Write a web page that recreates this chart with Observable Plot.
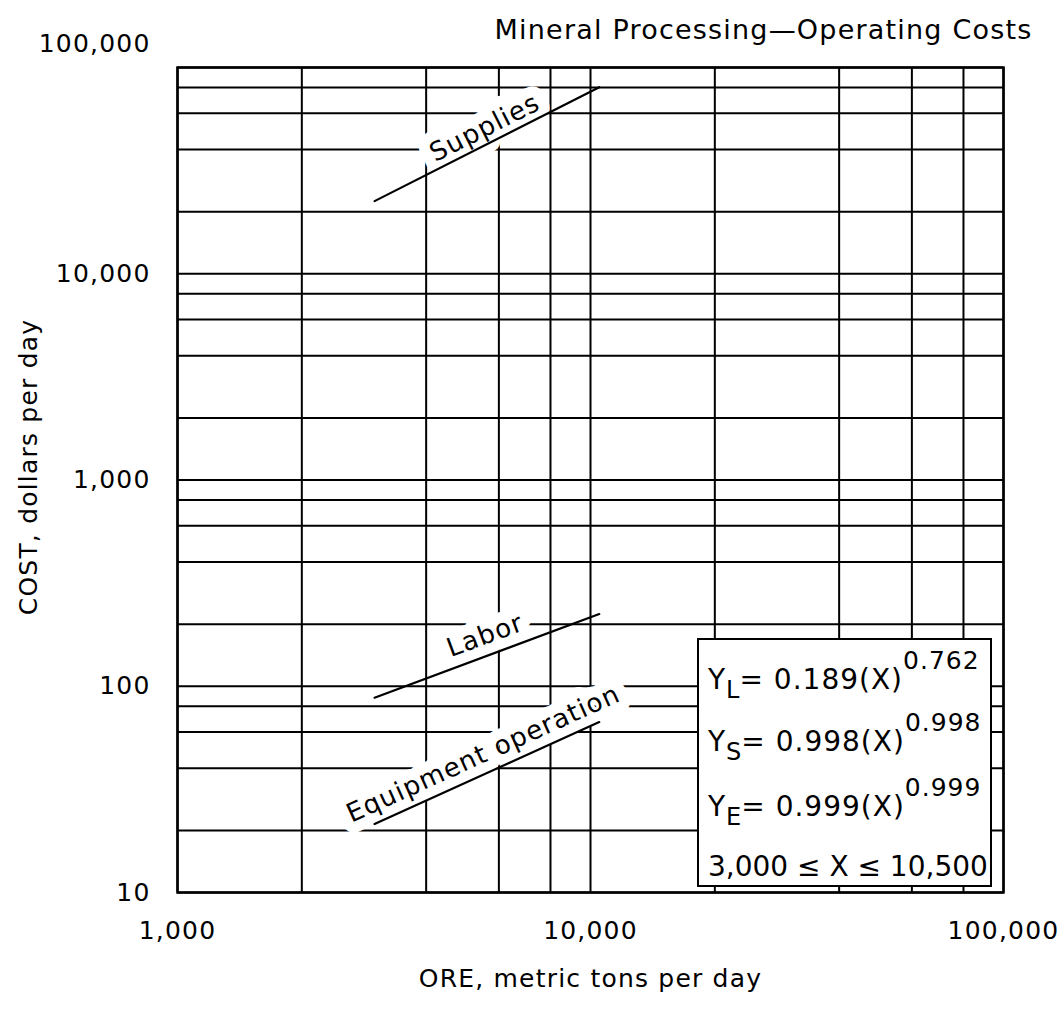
<!DOCTYPE html>
<html><head><meta charset="utf-8">
<script src="https://cdn.jsdelivr.net/npm/d3@7"></script>
<script src="https://cdn.jsdelivr.net/npm/@observablehq/plot@0.6"></script>
<style>
html,body{margin:0;padding:0;background:#fff;}
#wrap{position:relative;width:1059px;height:1009px;}
#wrap svg text{letter-spacing:1.2px;}
#eq{position:absolute;left:697px;top:638px;width:295px;height:249px;box-sizing:border-box;border:2px solid #000;background:#fff;font-family:"DejaVu Sans",sans-serif;color:#000;font-size:28px;letter-spacing:1px;}
#eq .ln{position:absolute;left:9px;line-height:28px;white-space:nowrap;}
#eq .rng{letter-spacing:0;}
#eq .sb{font-size:24px;position:relative;top:9px;letter-spacing:0;}
#eq .sp{font-size:25px;position:relative;top:-20px;}
</style></head>
<body><div id="wrap"></div>
<script>
// ---- data ----
const titleText = "Mineral Processing\u2014Operating Costs";
const xLabelText = "ORE, metric tons per day";
const yLabelText = "COST, dollars per day";
const xGrid = [1000, 2000, 4000, 6000, 8000, 10000, 20000, 40000, 60000, 80000, 100000];
const yGrid = [10, 20, 40, 60, 80, 100, 200, 400, 600, 800, 1000, 2000, 4000, 6000, 8000,
               10000, 20000, 40000, 60000, 80000, 100000];
const xTicks = [1000, 10000, 100000];
const yTicks = [10, 100, 1000, 10000, 100000];
const seriesNames = ["Supplies", "Labor", "Equipment operation"];
const oreX = [3000, 10500];
const suppliesCost = [22500, 80200];
const laborCost = [88, 224];
const equipmentCost = [21.5, 67];
const labelX = [5550, 5560, 5500];
const labelY = [51000, 176, 47];
const eqLines = [
  {sym: "Y", sub: "L", coef: "0.189", exp: "0.762"},
  {sym: "Y", sub: "S", coef: "0.998", exp: "0.998"},
  {sym: "Y", sub: "E", coef: "0.999", exp: "0.999"}
];
const rangeText = "3,000 \u2264 X \u2264 10,500";

// ---- layout ----
const W = 1059, H = 1009, ML = 177, MR = 56, MT = 67, MB = 117;
const FONT = "DejaVu Sans";
const seriesValues = [suppliesCost, laborCost, equipmentCost];
const rows = seriesNames.flatMap((name, i) => oreX.map((x, j) => ({name, x, y: seriesValues[i][j]})));
const ppdX = (W - ML - MR) / Math.log10(100000 / 1000);
const ppdY = (H - MT - MB) / Math.log10(100000 / 10);
const labels = seriesNames.map((name, i) => {
  const v = seriesValues[i];
  const slope = Math.log10(v[1] / v[0]) / Math.log10(oreX[1] / oreX[0]);
  return {name, x: labelX[i], y: labelY[i], angle: -Math.atan(slope * ppdY / ppdX) * 180 / Math.PI};
});
const fmt = d3.format(",");

const chart = Plot.plot({
  width: W, height: H,
  marginLeft: ML, marginRight: MR, marginTop: MT, marginBottom: MB,
  style: {fontFamily: FONT, background: "white", color: "black", overflow: "visible"},
  x: {type: "log", domain: [1000, 100000], axis: null},
  y: {type: "log", domain: [10, 100000], axis: null},
  marks: [
    Plot.ruleX(xGrid, {x: d => d, stroke: "black", strokeWidth: 2}),
    Plot.ruleY(yGrid, {y: d => d, stroke: "black", strokeWidth: 2}),
    // white masks behind curve labels
    Plot.text(labels, {x: "x", y: "y", text: "name", rotate: "angle", fontSize: 26,
      fill: "white", stroke: "white", strokeWidth: 22, strokeLinejoin: "round"}),
    Plot.line(rows, {x: "x", y: "y", z: "name", stroke: "black", strokeWidth: 2.2}),
    Plot.text(labels, {x: "x", y: "y", text: "name", rotate: "angle", fontSize: 26, fill: "black"}),
    Plot.frame({stroke: "black", strokeWidth: 2.5}),
    // y tick labels
    Plot.text(yTicks.slice(0, -1), {y: d => d, frameAnchor: "left", textAnchor: "end", lineAnchor: "middle", dx: -27,
      text: d => fmt(d), fontSize: 25, fill: "black"}),
    Plot.text(yTicks.slice(-1), {y: d => d, frameAnchor: "left", textAnchor: "end", lineAnchor: "middle", dx: -27, dy: -24,
      text: d => fmt(d), fontSize: 25, fill: "black"}),
    // x tick labels
    Plot.text(xTicks, {x: d => d, frameAnchor: "bottom", textAnchor: "middle", lineAnchor: "middle", dy: 38,
      text: d => fmt(d), fontSize: 25, fill: "black"}),
    // axis titles
    Plot.text([xLabelText], {frameAnchor: "bottom", textAnchor: "middle", lineAnchor: "middle", dy: 86,
      text: d => d, fontSize: 25, fill: "black"}),
    Plot.text([yLabelText], {frameAnchor: "left", textAnchor: "middle", lineAnchor: "middle", dx: -149, dy: -13,
      rotate: -90, text: d => d, fontSize: 25, fill: "black"}),
    // title
    Plot.text([titleText], {frameAnchor: "top-right", textAnchor: "end", lineAnchor: "middle", dx: 29, dy: -37,
      text: d => d, fontSize: 27, fill: "black"})
  ]
});
const wrap = document.getElementById("wrap");
wrap.appendChild(chart);

// equation inset box
const box = document.createElement("div");
box.id = "eq";
const tops = [26, 88, 153, 213];
eqLines.forEach((e, i) => {
  const ln = document.createElement("div");
  ln.className = "ln";
  ln.style.top = tops[i] + "px";
  ln.innerHTML = `${e.sym}<span class="sb">${e.sub}</span>= ${e.coef}(X)<span class="sp">${e.exp}</span>`;
  box.appendChild(ln);
});
const ln4 = document.createElement("div");
ln4.className = "ln rng";
ln4.style.top = tops[3] + "px";
ln4.textContent = rangeText;
box.appendChild(ln4);
wrap.appendChild(box);
</script></body></html>
